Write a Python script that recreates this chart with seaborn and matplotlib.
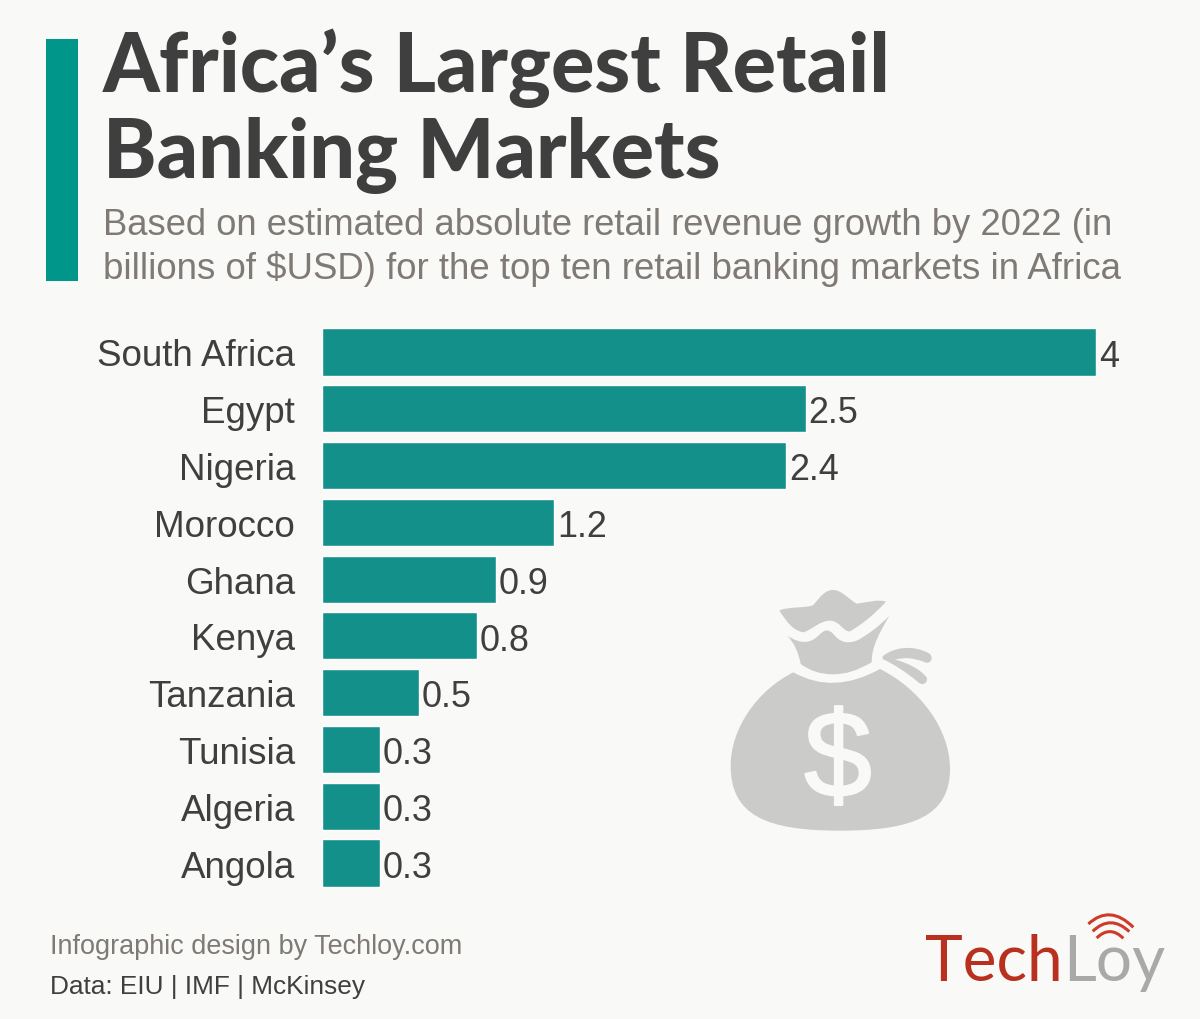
"""
Africa's largest retail banking markets, horizontal bar chart
"""

import matplotlib
matplotlib.use("Agg")
import matplotlib.patheffects as pe
import matplotlib.pyplot as plt
import pandas as pd
import seaborn as sns
from matplotlib.path import Path
from matplotlib.patches import PathPatch, Rectangle

countries = ["South Africa", "Egypt", "Nigeria", "Morocco", "Ghana",
             "Kenya", "Tanzania", "Tunisia", "Algeria", "Angola"]
growth = [4, 2.5, 2.4, 1.2, 0.9, 0.8, 0.5, 0.3, 0.3, 0.3]

BG = "#f9f9f7"
BAR = "#14908a"
ACCENT = "#00968a"
DARK = "#3f3f3f"
GREY = "#7f7a75"
ICON = "#cbcbca"
W, H = 1200, 1020


def px(size):
    """Font size in points from a pixel size"""
    return size * 0.72


def svg_path(cmds, ox, oy):
    """Build a path from zoom crop coordinates (crop is scaled 3x)"""
    codes, verts = [], []
    for cmd in cmds:
        pts = [(ox + x / 3, oy + y / 3) for x, y in cmd[1:]]
        code = {"M": Path.MOVETO, "L": Path.LINETO, "C": Path.CURVE4, "Q": Path.CURVE3}[cmd[0]]
        codes += [code] * len(pts)
        verts += pts
    return Path(verts, codes)


def draw_money_bag(bg):
    """Grey money bag decoration"""
    ox, oy = 700, 570
    body = [("M", (280, 310)), ("Q", (400, 378), (540, 300)),
            ("C", (660, 360), (750, 480), (750, 600)),
            ("C", (750, 740), (640, 785), (420, 785)),
            ("C", (200, 785), (92, 740), (92, 590)),
            ("C", (92, 480), (170, 365), (280, 310))]
    neck = [("M", (262, 200)), ("C", (300, 225), (330, 225), (355, 200)),
            ("C", (375, 180), (385, 180), (400, 195)),
            ("C", (420, 220), (440, 225), (470, 215)),
            ("C", (500, 200), (540, 170), (568, 140)),
            ("C", (540, 190), (515, 230), (515, 280)),
            ("C", (470, 305), (440, 315), (400, 316)),
            ("C", (360, 316), (330, 305), (302, 285)),
            ("C", (295, 250), (285, 225), (262, 200))]
    top = [("M", (238, 124)), ("C", (270, 112), (320, 118), (340, 108)),
           ("C", (360, 85), (375, 62), (400, 63)),
           ("C", (425, 63), (445, 90), (470, 104)),
           ("C", (500, 100), (535, 90), (558, 98)),
           ("C", (520, 140), (480, 170), (450, 187)),
           ("C", (430, 190), (420, 155), (390, 155)),
           ("C", (360, 155), (340, 180), (310, 190)),
           ("C", (280, 185), (260, 160), (238, 124))]
    string = [("M", (548, 262)), ("C", (580, 235), (640, 225), (690, 255)),
              ("C", (702, 270), (690, 285), (675, 280)),
              ("C", (640, 265), (610, 265), (585, 272)),
              ("C", (620, 280), (660, 300), (680, 325)),
              ("C", (685, 345), (665, 350), (655, 340)),
              ("C", (620, 310), (580, 285), (548, 270))]
    for part in [body, neck, top, string]:
        bg.add_patch(PathPatch(svg_path(part, ox, oy), fc=ICON, ec="none"))
    dollar = bg.text(838, 753, "$", fontsize=px(122), color=BG, ha="center", va="center_baseline",
                     family="Liberation Sans")
    # glyph stroke is a bit heavier in the original
    dollar.set_path_effects([pe.withStroke(linewidth=1.5, foreground=BG)])


def draw_logo(bg):
    """TechLoy wordmark with the three signal arcs"""
    bg.text(925, 981, "Tech", fontsize=px(64), color="#b9301f", family="Lato",
            weight=400, va="baseline", ha="left")
    bg.text(1063, 981, "Loy", fontsize=px(64), color="#a9a9a9", family="Lato",
            weight=400, va="baseline", ha="left")
    arcs = [[("M", (565, 75)), ("Q", (630, 15), (700, 85))],
            [("M", (578, 97)), ("Q", (632, 45), (688, 98))],
            [("M", (590, 117)), ("Q", (630, 78), (670, 118))]]
    for arc in arcs:
        bg.add_patch(PathPatch(svg_path(arc, 900, 900), fc="none", ec="#d03a28", lw=2.2))


def main():
    sns.set_theme(style="white")
    plt.rcParams["font.family"] = ["Liberation Sans", "DejaVu Sans"]

    df = pd.DataFrame({"country": countries, "growth": growth})

    fig = plt.figure(figsize=(W / 100, H / 100), dpi=100, facecolor=BG)

    # Full figure overlay in pixel coordinates for header, footer and icons
    bg = fig.add_axes([0, 0, 1, 1], zorder=0)
    bg.set_xlim(0, W)
    bg.set_ylim(H, 0)
    bg.axis("off")

    bg.add_patch(Rectangle((46, 39.5), 32, 242, fc=ACCENT, ec="none"))
    bg.text(103, 92, "Africa\u2019s Largest Retail", fontsize=px(81), weight=900,
            color=DARK, family="Lato", va="baseline")
    bg.text(103, 178, "Banking Markets", fontsize=px(81), weight=900,
            color=DARK, family="Lato", va="baseline")
    bg.text(103, 235, "Based on estimated absolute retail revenue growth by 2022 (in",
            fontsize=px(36.4), color=GREY, va="baseline")
    bg.text(103, 279, "billions of $USD) for the top ten retail banking markets in Africa",
            fontsize=px(36.6), color=GREY, va="baseline")

    bg.text(50, 954, "Infographic design by Techloy.com", fontsize=px(27), color=GREY, va="baseline")
    bg.text(50, 994, "Data: EIU | IMF | McKinsey", fontsize=px(26.3), color=DARK, va="baseline")

    draw_money_bag(bg)
    draw_logo(bg)

    # Bars
    left, right, top, bottom = 322, 1096, 324.6, 892.4
    ax = fig.add_axes([left / W, 1 - bottom / H, (right - left) / W, (bottom - top) / H], zorder=1)
    ax.patch.set_alpha(0)
    sns.barplot(data=df, x="growth", y="country", color=BAR, saturation=1, width=0.83, ax=ax)
    ax.set_xlim(0, 4)
    ax.set_ylim(9.5, -0.5)
    ax.set_xlabel("")
    ax.set_ylabel("")
    ax.xaxis.set_visible(False)
    sns.despine(ax=ax, left=True, bottom=True)
    ax.tick_params(axis="y", length=0, pad=19.5, labelsize=px(36.8), labelcolor=DARK)
    labels = ax.bar_label(ax.containers[0], fmt="%g", padding=2, fontsize=px(36), color=DARK)
    # nudge value labels down so they sit level with the bars
    for t in labels:
        t.xyann = (t.xyann[0], t.xyann[1] - 3)

    fig.savefig("out.png", dpi=100, facecolor=BG)
    plt.close(fig)


if __name__ == "__main__":
    main()
